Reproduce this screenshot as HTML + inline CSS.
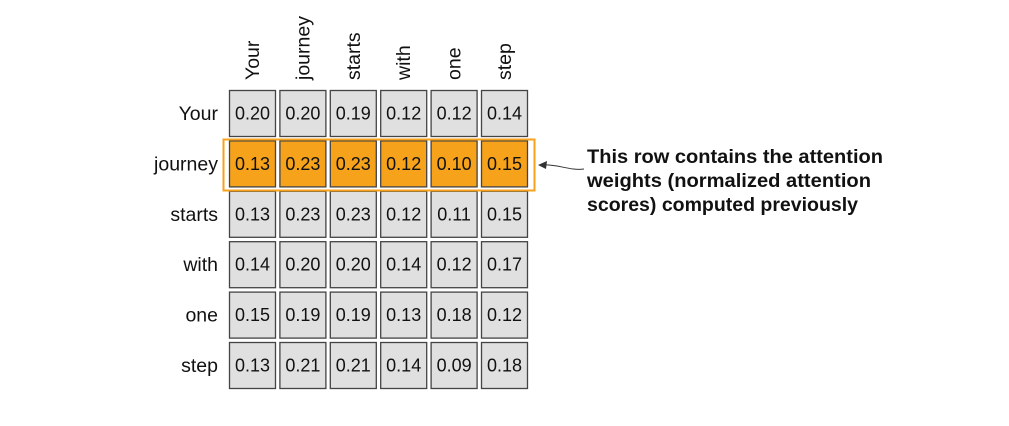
<!DOCTYPE html>
<html><head><meta charset="utf-8"><style>
html,body{margin:0;padding:0;background:#fff;width:1009px;height:426px;overflow:hidden}
svg{display:block}
</style></head><body>
<svg id="chart" width="1009" height="426" xmlns="http://www.w3.org/2000/svg">
<g id="cells"></g>
<rect x="223.5" y="139.5" width="311" height="51" fill="none" stroke="#f7a21b" stroke-width="2"/>
<path d="M584,169 C570,171 558,164 543,165" fill="none" stroke="#333" stroke-width="1"/>
<polygon points="538,165 547,161 546,169" fill="#333"/>
<g font-family="'Liberation Sans',sans-serif" font-weight="bold" font-size="19" fill="#111">
<text x="587" y="163" textLength="296" lengthAdjust="spacingAndGlyphs">This row contains the attention</text>
<text x="587" y="187" textLength="284" lengthAdjust="spacingAndGlyphs">weights (normalized attention</text>
<text x="587" y="211" textLength="271" lengthAdjust="spacingAndGlyphs">scores) computed previously</text>
</g>
</svg>
<script>
const tokens = ["Your","journey","starts","with","one","step"];
const row0 = [0.20,0.20,0.19,0.12,0.12,0.14];
const row1 = [0.13,0.23,0.23,0.12,0.10,0.15];
const row2 = [0.13,0.23,0.23,0.12,0.11,0.15];
const row3 = [0.14,0.20,0.20,0.14,0.12,0.17];
const row4 = [0.15,0.19,0.19,0.13,0.18,0.12];
const row5 = [0.13,0.21,0.21,0.14,0.09,0.18];
const rows = [row0,row1,row2,row3,row4,row5];
const highlightRow = 1;

const NS = "http://www.w3.org/2000/svg";
const g = document.getElementById("cells");
const x0 = 229, y0 = 90, pitch = 50.4, size = 46;
const xPos = i => x0 + i * pitch;
const yPos = j => y0 + j * pitch;
const font = "'Liberation Sans',sans-serif";

tokens.forEach((t, i) => {
  const tx = document.createElementNS(NS, "text");
  const cx = xPos(i) + size / 2 + 7;
  tx.setAttribute("transform", `translate(${cx},80) rotate(-90)`);
  tx.setAttribute("font-family", font);
  tx.setAttribute("font-size", "19.5");
  tx.setAttribute("fill", "#111");
  tx.textContent = t;
  
  
  g.appendChild(tx);

  const ry = document.createElementNS(NS, "text");
  ry.setAttribute("x", 218);
  ry.setAttribute("y", yPos(i) + size / 2 + 7);
  ry.setAttribute("text-anchor", "end");
  ry.setAttribute("font-family", font);
  ry.setAttribute("font-size", "19.5");
  ry.setAttribute("fill", "#111");
  ry.textContent = t;
  
  
  g.appendChild(ry);
});

rows.forEach((r, j) => {
  r.forEach((v, i) => {
    const rc = document.createElementNS(NS, "rect");
    rc.setAttribute("x", xPos(i) + 0.5);
    rc.setAttribute("y", yPos(j) + 0.5);
    rc.setAttribute("width", size);
    rc.setAttribute("height", size);
    rc.setAttribute("fill", j === highlightRow ? "#f7a21b" : "#e0e0e0");
    rc.setAttribute("stroke", "#444");
    rc.setAttribute("stroke-width", "1.3");
    
    
    g.appendChild(rc);
    const t = document.createElementNS(NS, "text");
    t.setAttribute("x", xPos(i) + size / 2 + 0.5);
    t.setAttribute("y", yPos(j) + size / 2 + 6.5);
    t.setAttribute("text-anchor", "middle");
    t.setAttribute("font-family", font);
    t.setAttribute("font-size", "18");
    t.setAttribute("fill", "#111");
    t.textContent = v.toFixed(2);
    
    
    g.appendChild(t);
  });
});
</script>
</body></html>
